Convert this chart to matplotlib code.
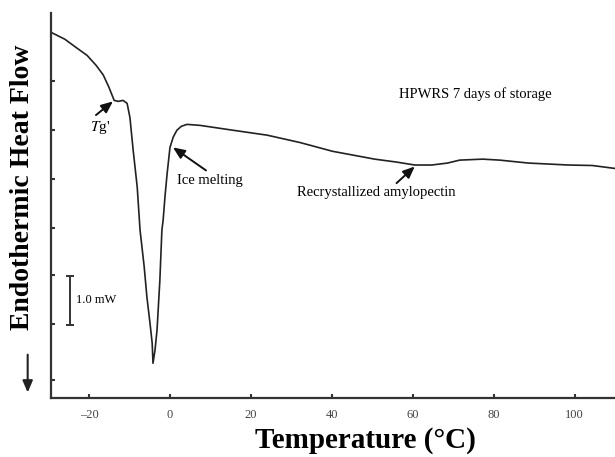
import numpy as np
import matplotlib
matplotlib.use("Agg")
import matplotlib.pyplot as plt

# DSC trace, HPWRS 7 days of storage (temperature in C, heat flow in mW, arbitrary offset)
temp = [-29.4, -26.0, -23.2, -20.5, -18.3, -16.5, -15.1, -13.8, -12.8, -11.6,
        -10.6, -9.9, -9.1, -8.1, -7.4, -6.4, -5.7, -4.9, -4.4, -4.2,
        -3.7, -3.2, -2.5, -2.0, -1.7, -1.2, -0.7, 0.0, 0.8, 1.7,
        2.8, 4.2, 7.4, 15.6, 24.0, 32.1, 40.2, 50.6, 56.0, 60.5,
        64.7, 68.6, 71.6, 77.3, 81.5, 88.6, 98.5, 104.4, 110.0]
heat = [7.47, 7.33, 7.16, 7.00, 6.80, 6.60, 6.35, 6.08, 6.06, 6.08,
        6.02, 5.73, 5.06, 4.31, 3.43, 2.70, 2.06, 1.50, 1.12, 0.71,
        0.98, 1.39, 2.41, 3.43, 3.63, 4.15, 4.59, 5.12, 5.33, 5.47,
        5.55, 5.59, 5.57, 5.47, 5.37, 5.22, 5.04, 4.88, 4.82, 4.76,
        4.76, 4.80, 4.86, 4.88, 4.86, 4.80, 4.76, 4.75, 4.69]

x_ticks = [-20, 0, 20, 40, 60, 80, 100]
x_tick_labels = ['\u201320', '0', '20', '40', '60', '80', '100']
y_ticks = [0.37, 1.51, 2.51, 3.47, 4.47, 5.47, 6.47]

plt.rcParams['font.family'] = ['Liberation Serif', 'DejaVu Serif']
plt.rcParams['mathtext.fontset'] = 'stix'

fig = plt.figure(figsize=(6.15, 4.57), dpi=100)
ax = fig.add_axes([0.083, 0.129, 0.917, 0.842])

ax.plot(temp, heat, color='#222222', lw=1.2)

ax.set_xlim(-29.4, 110)
ax.set_ylim(0, 7.86)
ax.set_xticks(x_ticks)
ax.set_xticklabels(x_tick_labels)
ax.set_yticks(y_ticks)
ax.set_yticklabels([])
ax.tick_params(axis='both', direction='in', length=3, width=1.5, labelsize=9, colors='#333333')
ax.tick_params(axis='x', pad=8, labelcolor='#444444')
for s in ['top', 'right']:
    ax.spines[s].set_visible(False)
for s in ['left', 'bottom']:
    ax.spines[s].set_linewidth(1.6)
    ax.spines[s].set_color('#333333')

fig.text(0.595, 0.037, 'Temperature (°C)', fontsize=21, fontweight='bold',
         ha='center', va='center')
fig.text(0.036, 0.59, 'Endothermic Heat Flow', rotation=90, fontsize=20,
         fontweight='bold', ha='center', va='center')
fig.patches.append(matplotlib.patches.FancyArrowPatch(
    (0.045, 0.23), (0.045, 0.135), transform=fig.transFigure,
    arrowstyle='-|>,head_width=3,head_length=7', color='#222222', lw=1.5))

arrow = dict(arrowstyle='-|>,head_width=0.3,head_length=0.7', color='#111111',
             lw=1.4, shrinkA=0, shrinkB=0)
ax.text(-17.3, 5.53, "$T$g'", fontsize=11, ha='center', va='center')
ax.annotate('', xy=(-14.1, 6.06), xytext=(-18.3, 5.78), arrowprops=arrow)
ax.text(1.7, 4.45, 'Ice melting', fontsize=10.5, ha='left', va='center')
ax.annotate('', xy=(0.74, 5.12), xytext=(8.9, 4.65), arrowprops=arrow)
ax.text(31.4, 4.2, 'Recrystallized amylopectin', fontsize=10.5, ha='left', va='center')
ax.annotate('', xy=(60.5, 4.73), xytext=(56.0, 4.39), arrowprops=arrow)
ax.text(75.5, 6.2, 'HPWRS 7 days of storage', fontsize=10.5, ha='center', va='center')

# 1.0 mW scale bar
ax.errorbar([-24.7], [2.0], yerr=[0.5], color='#333333', capsize=3, lw=1.4, capthick=1.4)
ax.text(-23.2, 2.0, '1.0 mW', fontsize=9, ha='left', va='center')

fig.savefig('out.png', dpi=100)
